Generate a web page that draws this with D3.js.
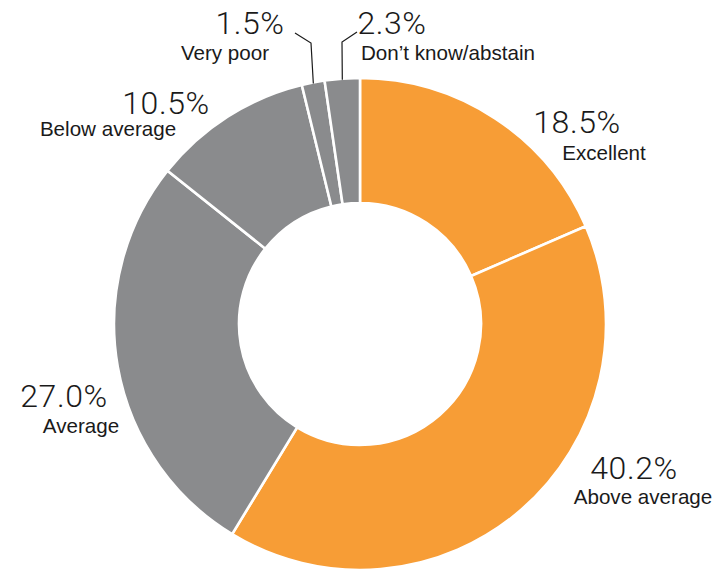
<!DOCTYPE html>
<html>
<head>
<meta charset="utf-8">
<script src="https://cdn.jsdelivr.net/npm/d3@7"></script>
<style>
  html, body { margin: 0; padding: 0; background: #fff; }
  svg { display: block; }
</style>
</head>
<body>
<svg id="chart" width="717" height="569"></svg>
<script>
// ---- data ----
const categories = ["Excellent", "Above average", "Average", "Below average", "Very poor", "Don\u2019t know/abstain"];
const values = [18.5, 40.2, 27.0, 10.5, 1.5, 2.3];
const valueLabels = ["18.5%", "40.2%", "27.0%", "10.5%", "1.5%", "2.3%"];
const groups = ["positive", "positive", "neutral", "negative", "negative", "other"];

// ---- layout (positions for annotations, not data) ----
const W = 717, H = 569;
const cx = 360, cy = 324, outerR = 246, innerR = 121;
const labelLayout = {
  "Excellent":            { pct: [577, 133], name: [604, 160] },
  "Above average":        { pct: [634, 479], name: [643, 504] },
  "Average":              { pct: [64, 407],  name: [81, 433] },
  "Below average":        { pct: [166, 114], name: [108, 136] },
  "Very poor":            { pct: [250, 34],  name: [225, 60], leader: [[311, 43], [295, 33]] },
  "Don\u2019t know/abstain": { pct: [392, 34],  name: [448, 60], leader: [[342, 42], [357, 32]] }
};
const colors = { positive: "#F79D36", neutral: "#8A8B8D", negative: "#8A8B8D", other: "#8A8B8D" };

const data = categories.map((c, i) => ({ category: c, value: values[i], label: valueLabels[i], group: groups[i] }));

const svg = d3.select("#chart");
const g = svg.append("g").attr("transform", `translate(${cx},${cy})`);

const pie = d3.pie().value(d => d.value).sort(null).startAngle(0).endAngle(2 * Math.PI);
const arcs = pie(data);
const arc = d3.arc().innerRadius(innerR).outerRadius(outerR);

g.selectAll("path.slice")
  .data(arcs)
  .join("path")
  .attr("class", "slice")
  .attr("d", arc)
  .attr("fill", d => colors[d.data.group])
  .attr("stroke", "#ffffff")
  .attr("stroke-width", 2.6)
  .attr("stroke-linejoin", "miter");

// leader lines for small slices
arcs.forEach(a => {
  const L = labelLayout[a.data.category];
  if (!L.leader) return;
  const mid = (a.startAngle + a.endAngle) / 2;
  const px = cx + Math.sin(mid) * (outerR - 1);
  const py = cy - Math.cos(mid) * (outerR - 1);
  const pts = [[px, py]].concat(L.leader);
  svg.append("path")
    .attr("d", d3.line()(pts))
    .attr("fill", "none")
    .attr("stroke", "#1a1a1a")
    .attr("stroke-width", 1.2);
});

// labels
const lab = svg.append("g");
arcs.forEach(a => {
  const L = labelLayout[a.data.category];
  lab.append("text")
    .attr("x", L.pct[0]).attr("y", L.pct[1])
    .attr("text-anchor", "middle")
    .attr("font-family", "Roboto, 'Liberation Sans', sans-serif")
    .attr("font-weight", 300)
    .attr("font-size", 32)
    .attr("letter-spacing", 0.6)
    .attr("fill", "#1a1a1a")
    .text(a.data.label);
  lab.append("text")
    .attr("x", L.name[0]).attr("y", L.name[1])
    .attr("text-anchor", "middle")
    .attr("font-family", "'Liberation Sans', Arial, sans-serif")
    .attr("font-size", 20.6)
    .attr("fill", "#1a1a1a")
    .text(a.data.category);
});
</script>
</body>
</html>
